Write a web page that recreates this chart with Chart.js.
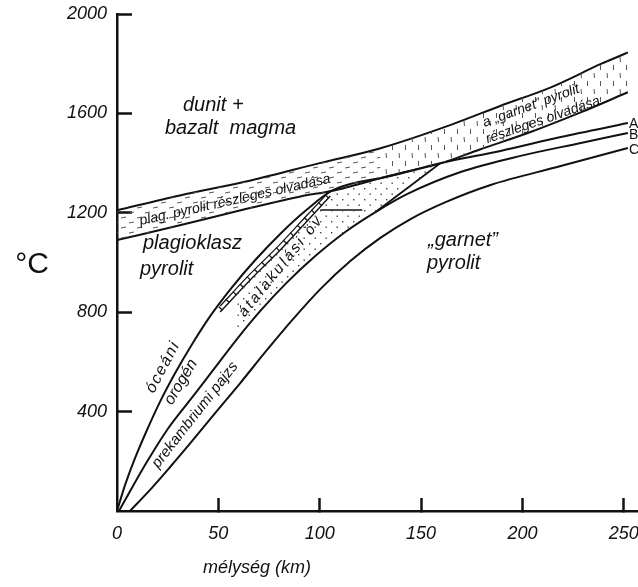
<!DOCTYPE html>
<html lang="hu">
<head>
<meta charset="UTF-8" />
<title>Pyrolit olvadása és geotermák</title>
<script src="https://cdn.jsdelivr.net/npm/chart.js"></script>
<style>
  body { margin: 0; background: #fff; }
  #wrap { width: 638px; height: 587px; position: relative; }
</style>
</head>
<body>
<div id="wrap"><canvas id="chart"></canvas></div>
<script>
  // mélység (km) / hőmérséklet (°C), a rajzról leolvasva
  // részleges olvadás sávjának felső széle
  const topKm = [0, 31, 66, 100, 130, 165, 189, 214, 239, 252];
  const topC  = [1210, 1270, 1330, 1400, 1460, 1555, 1630, 1705, 1800, 1845];
  // sáv alsó széle (solidus)
  const solKm = [0, 31, 66, 90, 107, 135, 160, 179, 204, 229, 252];
  const solC  = [1090, 1150, 1220, 1265, 1290, 1350, 1400, 1455, 1525, 1605, 1685];

  // geotermák
  const oceanKm = [0, 4, 8.9, 14.8, 21.2, 28.7, 37.1, 46.4, 56.8, 68.2, 80.5, 93.4, 106.7, 134.9, 159.6, 189.2, 218.9, 252];
  const oceanC  = [0, 105, 213, 326, 439, 555, 672, 789, 901, 1010, 1115, 1211, 1292, 1348, 1400, 1449, 1505, 1561];
  const orogenKm = [1, 7.9, 15.3, 24.7, 36.1, 47.4, 58.8, 70.7, 83.5, 97.8, 112.6, 127.5, 143.3, 169.5, 199.1, 228.8, 252];
  const orogenC  = [0, 101, 205, 326, 447, 567, 688, 805, 917, 1026, 1123, 1203, 1276, 1364, 1429, 1481, 1521];
  const shieldKm = [6.4, 16.3, 26.2, 37.1, 48.4, 60.8, 73.6, 86.5, 100.3, 115.1, 129.9, 144.8, 162.1, 184.3, 218.9, 252];
  const shieldC  = [0, 85, 177, 282, 394, 515, 644, 769, 893, 1006, 1099, 1175, 1243, 1312, 1388, 1461];

  // átalakulási öv
  const zoneTopKm = [50.9, 65.7, 80.5, 92.9, 105.2, 134.9, 159.6];
  const zoneTopC  = [801, 930, 1050, 1159, 1268, 1348, 1400];
  const zoneBotKm = [58.8, 70.7, 83.5, 97.8, 112.6, 127.5, 143.3, 159.6];
  const zoneBotC  = [688, 805, 917, 1026, 1123, 1203, 1300, 1400];
  const zoneEdgeKm = [127.5, 143.3, 159.6];
  const zoneEdgeC  = [1203, 1300, 1400];
  const ladderKm = [50.9, 65.7, 80.5, 92.9, 105.2];
  const ladderC  = [801, 930, 1050, 1159, 1268];
  const ladder2C = [825, 954, 1074, 1183, 1290];
  const ladderMidC = [813, 942, 1062, 1171, 1279];
  const markKm = [100.3, 121];
  const markC  = [1211, 1211];

  const splitKm = 130;

  const pts = (xs, ys) => xs.map((x, i) => ({ x, y: ys[i] }));

  function pattern(w, h, draw) {
    const c = document.createElement('canvas');
    c.width = w; c.height = h;
    const g = c.getContext('2d');
    g.strokeStyle = '#555'; g.fillStyle = '#444'; g.lineWidth = 1;
    draw(g);
    return g.createPattern(c, 'repeat');
  }
  const dashes = pattern(16, 10, g => {
    g.beginPath();
    g.moveTo(1, 3); g.lineTo(6, 2);
    g.moveTo(9, 8); g.lineTo(14, 7);
    g.stroke();
  });
  const strokes = pattern(13, 16, g => {
    g.beginPath();
    g.moveTo(2.5, 1); g.lineTo(2.5, 6);
    g.moveTo(9, 9); g.lineTo(9.5, 14);
    g.stroke();
  });
  const dots = pattern(11, 11, g => {
    g.fillRect(1, 1, 1.4, 1.4);
    g.fillRect(6.5, 6.5, 1.4, 1.4);
  });

  const line = (data, width = 2) => ({
    data, borderColor: '#111', borderWidth: width, pointRadius: 0,
    fill: false, cubicInterpolationMode: 'monotone'
  });
  const area = (data, target, bg) => ({
    data, borderColor: 'rgba(0,0,0,0)', backgroundColor: bg, pointRadius: 0,
    fill: target === null ? false : { target }, cubicInterpolationMode: 'monotone'
  });

  const topPts = pts(topKm, topC);
  const rungs = Object.assign(line(pts(ladderKm, ladderMidC), 5),
    { borderDash: [1.3, 9], borderCapStyle: 'butt' });

  const datasets = [
    area(topPts.filter(p => p.x <= splitKm), 2, dashes),   // 0
    area(topPts.filter(p => p.x >= splitKm), 2, strokes),  // 1
    line(pts(solKm, solC)),                                 // 2
    line(topPts),                                           // 3
    area(pts(zoneTopKm, zoneTopC), 5, dots),                // 4
    area(pts(zoneBotKm, zoneBotC), null, 'rgba(0,0,0,0)'),  // 5 (csak határ)
    line(pts(zoneEdgeKm, zoneEdgeC), 1.8),                  // 6
    line(pts(oceanKm, oceanC)),                             // 7
    line(pts(orogenKm, orogenC)),                           // 8
    line(pts(shieldKm, shieldC)),                           // 9
    line(pts(ladderKm, ladderC), 1.4),                      // 10
    line(pts(ladderKm, ladder2C), 1.2),                     // 11
    rungs,                                                  // 12
    line(pts(markKm, markC), 1.6)                           // 13
  ];

  // feliratok
  const notes = {
    id: 'notes',
    afterDatasetsDraw(chart) {
      const ctx = chart.ctx;
      const put = (text, x, y, size, o = {}) => {
        ctx.save();
        ctx.fillStyle = '#111';
        ctx.font = (o.plain ? '' : 'italic ') + size + "px 'Liberation Sans', Arial, sans-serif";
        ctx.textAlign = o.align || 'left';
        ctx.textBaseline = o.base || 'alphabetic';
        if (o.spacing) ctx.letterSpacing = o.spacing;
        ctx.translate(x, y);
        if (o.rot) ctx.rotate(o.rot * Math.PI / 180);
        ctx.fillText(text, 0, 0);
        ctx.restore();
      };
      const mid = { align: 'center', base: 'middle' };

      put('dunit +', 183, 111, 20);
      put('bazalt  magma', 165, 134, 20);
      put('plagioklasz', 143, 249, 20);
      put('pyrolit', 140, 275, 20);
      put('\u201egarnet\u201d', 428, 246, 20);
      put('pyrolit', 427, 269, 20);

      put('plag. pyrolit részleges olvadása', 235, 200, 14, { ...mid, rot: -12.6 });
      put('a \u201egarnet\u201d pyrolit', 531, 106, 14, { ...mid, rot: -20 });
      put('részleges olvadása', 543, 120, 14, { ...mid, rot: -19 });
      put('átalakulási öv', 281, 266, 15, { ...mid, rot: -51, spacing: '2.5px' });

      put('óceáni', 163, 367, 16, { ...mid, rot: -62, spacing: '1.5px' });
      put('orogén', 181, 382, 16, { ...mid, rot: -59 });
      put('prekambriumi pajzs', 195, 415, 15, { ...mid, rot: -52 });

      put('A', 629, 124, 14, { base: 'middle', plain: true });
      put('B', 629, 135, 14, { base: 'middle', plain: true });
      put('C', 629, 150, 14, { base: 'middle', plain: true });

      put('°C', 32, 265, 30, { ...mid, plain: true });
      put('mélység (km)', 257, 568, 18, mid);
    }
  };

  Chart.defaults.font.family = "'Liberation Sans', Arial, sans-serif";

  const tickColor = c => (c.tick && c.tick.value === 0 ? 'rgba(0,0,0,0)' : '#111');

  new Chart(document.getElementById('chart'), {
    type: 'line',
    data: { datasets },
    plugins: [notes],
    options: {
      responsive: true,
      maintainAspectRatio: false,
      animation: false,
      layout: { padding: { top: 14, right: 0, bottom: 0, left: 0 } },
      plugins: { legend: { display: false }, tooltip: { enabled: false } },
      scales: {
        x: {
          type: 'linear', min: 0, max: 257,
          ticks: { stepSize: 50, includeBounds: false, padding: 25, color: '#111',
                   font: { size: 18, style: 'italic' } },
          grid: { drawOnChartArea: false, tickLength: -13, tickWidth: 2.5, tickColor },
          border: { color: '#111', width: 2.5 },
          afterFit: s => { s.height = 76; s.paddingLeft = 0; s.paddingRight = 0; }
        },
        y: {
          type: 'linear', min: 0, max: 2000,
          ticks: { stepSize: 400, padding: 25, color: '#111',
                   font: { size: 18, style: 'italic' },
                   callback: v => (v === 0 ? '' : v) },
          grid: { drawOnChartArea: false, tickLength: -15, tickWidth: 2.5, tickColor },
          border: { color: '#111', width: 2.5 },
          afterFit: s => { s.width = 117; s.paddingTop = 0; s.paddingBottom = 0; }
        }
      }
    }
  });
</script>
</body>
</html>
